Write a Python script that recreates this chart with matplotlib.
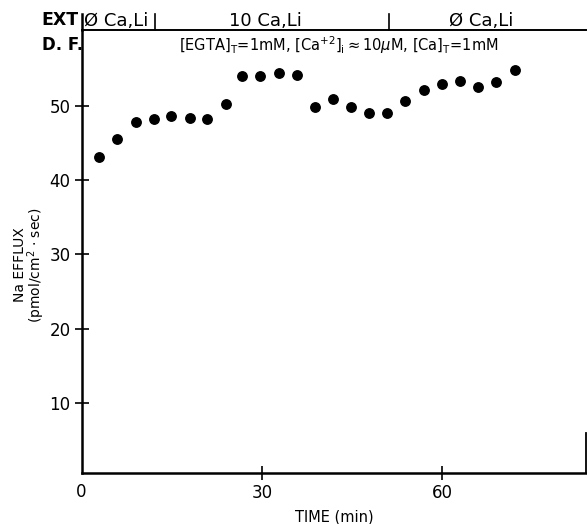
import matplotlib.pyplot as plt
from matplotlib.ticker import FixedLocator

plt.rcParams.update({
    'font.family': 'DejaVu Sans',
    'font.size': 11,
})

# Na efflux vs time
time_min = [2.9, 5.9, 9.1, 12.0, 14.9, 18.0, 20.9, 24.0, 26.7, 29.7, 32.9, 35.9,
            38.9, 41.9, 44.9, 47.9, 50.8, 53.8, 56.9, 60.0, 63.0, 65.9, 68.9, 72.1]
na_efflux = [43.1, 45.6, 47.8, 48.3, 48.7, 48.4, 48.2, 50.3, 54.1, 54.1, 54.5, 54.2,
             49.8, 50.9, 49.8, 49.0, 49.1, 50.6, 52.2, 53.0, 53.4, 52.5, 53.2, 54.9]

# solution bar on top
ext_labels = ['Ø Ca,Li', '10 Ca,Li', 'Ø Ca,Li']
ext_label_x = [5.8, 30.6, 66.5]
ext_change_x = [12.2, 51.1]

x_ticks = [30, 60]
y_ticks = [10, 20, 30, 40, 50]

YTOP = 60.2

fig = plt.figure(figsize=(5.87, 5.24), dpi=100)
ax = fig.add_axes([0.139, 0.0973, 0.860, 0.845])

ax.plot(time_min, na_efflux, 'o', color='black', markersize=6.8, linestyle='none')

ax.set_xlim(0, 84)
ax.set_ylim(0.54, YTOP)

ax.xaxis.set_major_locator(FixedLocator(x_ticks))
ax.yaxis.set_major_locator(FixedLocator(y_ticks))
ax.tick_params(direction='inout', length=10, width=1.2, labelsize=12, pad=3)

for s in ['left', 'bottom']:
    ax.spines[s].set_linewidth(1.8)
ax.spines['top'].set_linewidth(1.4)
ax.spines['right'].set_visible(False)
# short right edge near the bottom
ax.plot([1, 1], [0, 0.09], transform=ax.transAxes, color='black', lw=1.3, clip_on=False)

# extra "0" at the origin
ax.text(0, -0.023, '0', transform=ax.transAxes, ha='center', va='top', fontsize=12)

ax.set_xlabel('TIME (min)', fontsize=10.5, labelpad=5)
ax.set_ylabel('Na EFFLUX\n(pmol/cm$^2$ · sec)', fontsize=10, linespacing=0.9)
ax.yaxis.set_label_coords(-0.068, 0.47)

# header above the plot
ax.plot([0, 0], [YTOP, 62.4], color='black', lw=1.8, clip_on=False)
for xc in ext_change_x:
    ax.plot([xc, xc], [YTOP, 62.4], color='black', lw=1.2, clip_on=False)
fig.text(0.071, 0.962, 'EXT', ha='left', va='center', fontsize=12.5, fontweight='bold')
fig.text(0.071, 0.914, 'D. F.', ha='left', va='center', fontsize=12, fontweight='bold')
for lab, xc in zip(ext_labels, ext_label_x):
    ax.text(xc, 61.5, lab, ha='center', va='center', fontsize=13, clip_on=False)
ax.text(42.7, 58.2, r'[EGTA]$_\mathrm{T}$=1mM, [Ca$^{+2}$]$_\mathrm{i}$$\approx$10$\mu$M, [Ca]$_\mathrm{T}$=1mM',
        ha='center', va='center', fontsize=10.5)

fig.savefig('out.png', dpi=100)
